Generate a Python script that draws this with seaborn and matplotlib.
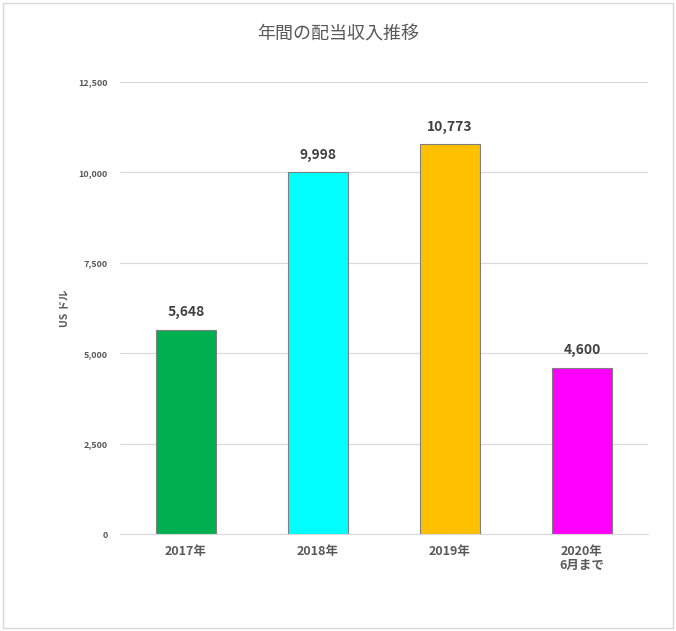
import matplotlib
matplotlib.use("Agg")
import matplotlib.pyplot as plt
import seaborn as sns
import pandas as pd
from matplotlib.patches import Rectangle

# データ
years = ["2017年", "2018年", "2019年", "2020年\n6月まで"]
dividends = [5648, 9998, 10773, 4600]
bar_colors = ["#00B050", "#00FFFF", "#FFC000", "#FF00FF"]

df = pd.DataFrame({"year": years, "dividend": dividends})

sns.set_style("white")
plt.rcParams['font.family'] = ['Noto Sans CJK JP', 'DejaVu Sans']

fig = plt.figure(figsize=(6.76, 6.31), dpi=100)
ax = fig.add_axes([0.1775, 0.1537, 0.781, 0.7163])

sns.barplot(data=df, x="year", y="dividend", hue="year", palette=bar_colors,
            saturation=1, width=0.46, edgecolor="#7f7f7f", linewidth=0.8,
            legend=False, ax=ax)

ax.set_ylim(0, 12500)
ax.set_xlim(-0.5, 3.5)
ax.set_yticks(range(0, 12501, 2500))
ax.yaxis.set_major_formatter(matplotlib.ticker.FuncFormatter(lambda v, p: f"{int(v):,}"))
ax.grid(axis="y", color="#d9d9d9", linewidth=0.8)
ax.set_axisbelow(True)
for s in ["top", "right", "left"]:
    ax.spines[s].set_visible(False)
ax.spines["bottom"].set_color("#d9d9d9")

ax.tick_params(axis="y", length=0, labelsize=6.5, labelcolor="#595959", pad=9)
ax.tick_params(axis="x", length=0, labelsize=9, labelcolor="#595959", pad=8)
for t in ax.get_yticklabels():
    t.set_fontweight("bold")
for t in ax.get_xticklabels():
    t.set_fontweight("bold")
    t.set_linespacing(1.1)

ax.set_xlabel("")
ax.set_ylabel("US ドル", fontsize=7.5, color="#595959", fontweight="bold", labelpad=6)

for i, v in enumerate(dividends):
    ax.text(i, v + 300, f"{v:,}", ha="center", va="bottom", fontsize=10,
            fontweight="bold", color="#404040")

fig.text(0.5, 0.946, "年間の配当収入推移", ha="center", va="center",
         fontsize=13, color="#595959")

fig.patches.append(Rectangle((0.005, 0.005), 0.99, 0.99, transform=fig.transFigure,
                             fill=False, edgecolor="#d9d9d9", linewidth=1))

fig.savefig("out.png", dpi=100)
